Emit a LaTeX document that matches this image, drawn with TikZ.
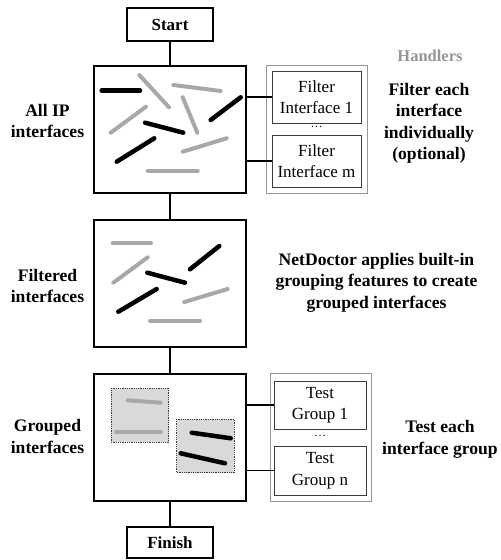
\documentclass[tikz,border=0pt]{standalone}
\usepackage{fontspec}
\setmainfont{Liberation Serif}
\definecolor{bargray}{RGB}{168,168,168}
\definecolor{hgray}{RGB}{150,150,150}
\definecolor{grpfill}{RGB}{217,217,217}
\definecolor{boxline}{RGB}{60,60,60}
\begin{document}
\begin{tikzpicture}[x=1bp,y=-1bp,
  termbox/.style={draw, line width=1.1bp, minimum width=86bp, minimum height=33bp, inner sep=0pt, font=\fontsize{17bp}{20bp}\selectfont\bfseries},
  mainbox/.style={draw, line width=1.4bp, minimum width=152bp, minimum height=127bp, inner sep=0pt},
  houter/.style={draw=hgray, line width=0.9bp, minimum width=101bp, minimum height=128bp, inner sep=0pt},
  hinner/.style={draw=boxline, line width=0.9bp, inner sep=0pt, align=center, font=\fontsize{17bp}{21.5bp}\selectfont},
  conn/.style={line width=1.8bp},
  lbl/.style={align=center, anchor=base, inner sep=0pt, font=\fontsize{17.6bp}{21.5bp}\selectfont\bfseries},
  dots/.style={inner sep=0pt, font=\fontsize{12bp}{12bp}\selectfont},
  bbar/.style={line width=4.5bp, line cap=round, black},
  gbar/.style={line width=4bp, line cap=round, bargray},
  grp/.style={draw=boxline, densely dotted, line width=0.8bp, fill=grpfill}
]
\useasboundingbox (0,0) rectangle (501,560);

% main column
\node[termbox] (start) at (170,24.5) {Start};
\node[mainbox] (b1) at (170,129.5) {};
\node[mainbox] (b2) at (170,283.5) {};
\node[mainbox] (b3) at (170,437.5) {};
\node[termbox, minimum height=31bp] (finish) at (170,542.5) {Finish};
\draw[conn] (start) -- (b1);
\draw[conn] (b1) -- (b2);
\draw[conn] (b2) -- (b3);
\draw[conn] (b3) -- (finish);

% handlers 1
\node[houter] (h1) at (316.5,129) {};
\node[hinner, minimum width=89bp, minimum height=52bp] (f1) at (316.5,97) {Filter\\Interface 1};
\node[hinner, minimum width=89bp, minimum height=52bp] (fm) at (316.5,161) {Filter\\Interface m};
\node[dots] (d1) at (316.5,127) {\dots};
\draw[conn] (f1.west -| b1.east) -- (f1.west);
\draw[conn] (fm.west -| b1.east) -- (fm.west);

% handlers 2
\node[houter] (h2) at (320.5,437) {};
\node[hinner, minimum width=92bp, minimum height=48bp] (t1) at (320,405) {Test\\Group 1};
\node[hinner, minimum width=92bp, minimum height=49bp] (tn) at (320,470.5) {Test\\Group n};
\node[dots] (d2) at (320,436) {\dots};
\draw[conn] (t1.west -| b3.east) -- (t1.west);
\draw[conn] (tn.west -| b3.east) -- (tn.west);

% labels (anchor base = last line baseline)
\node[lbl] (l1) at (47.5,138) {All IP\\interfaces};
\node[lbl] (l2) at (47.5,302.5) {Filtered\\interfaces};
\node[lbl] (l3) at (47.5,453) {Grouped\\interfaces};
\node[lbl, text=hgray, font=\fontsize{16.5bp}{20bp}\selectfont\bfseries] (hd) at (430,62) {Handlers};
\node[lbl] (r1) at (429,160) {Filter each\\interface\\individually\\(optional)};
\node[lbl] (r2) at (376.5,308) {NetDoctor applies built-in\\grouping features to create\\grouped interfaces};
\node[lbl] (r3) at (440,454) {Test each\\interface group};

% bars box 1
\draw[bbar] (101.7,90.7) -- (140,90.7);
\draw[bbar] (210.7,120) -- (240.7,97.3);
\draw[bbar] (145,122.7) -- (183.3,132.7);
\draw[bbar] (116.7,161.7) -- (154.3,138.3);
\draw[gbar] (139.3,75) -- (169,107.3);
\draw[gbar] (173.3,85) -- (220.7,91);
\draw[gbar] (110.7,132.7) -- (146,106.7);
\draw[gbar] (182.7,97.3) -- (197.3,132.7);
\draw[gbar] (182.7,151.7) -- (226.7,138.3);
\draw[gbar] (147.7,170.7) -- (197.7,170.7);

% bars box 2
\draw[gbar] (112.7,243.3) -- (151,243.3);
\draw[gbar] (113.3,282.7) -- (147.7,257.3);
\draw[gbar] (184.3,302) -- (227.7,289);
\draw[gbar] (150,320.7) -- (200,320.7);
\draw[bbar] (190,269.3) -- (219.3,246);
\draw[bbar] (147.3,272.7) -- (185,282.7);
\draw[bbar] (118.3,311.7) -- (156.7,289);

% box 3 groups
\draw[grp] (111,388.3) rectangle (168.7,442.3);
\draw[grp] (176.7,419) rectangle (234.3,472.7);
\draw[gbar] (127.7,400.3) -- (160.7,402.7);
\draw[gbar] (116,432) -- (160.7,432);
\draw[bbar] (191.7,432.7) -- (230.7,438.3);
\draw[bbar] (180.7,453.3) -- (225,463.3);
\end{tikzpicture}
\end{document}
